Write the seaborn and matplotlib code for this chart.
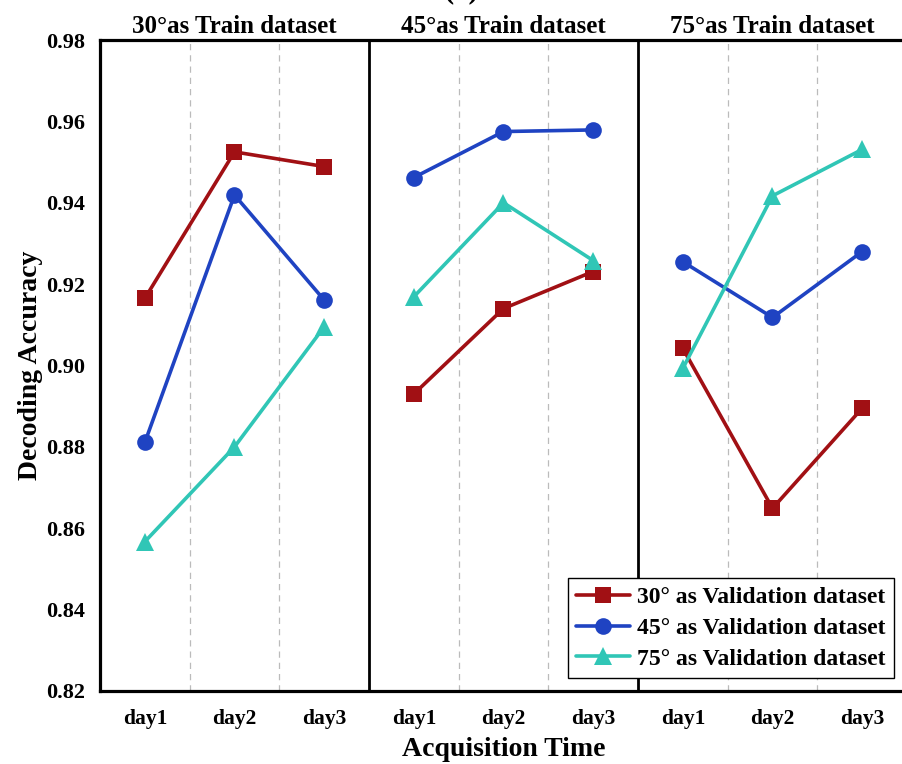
import matplotlib
matplotlib.use("Agg")
import matplotlib.pyplot as plt
import seaborn as sns
import pandas as pd
from matplotlib.lines import Line2D

sns.set_style("white")
plt.rcParams['font.family'] = ['Liberation Serif', 'DejaVu Serif']
plt.rcParams['font.weight'] = 'bold'
plt.rcParams['text.color'] = 'black'
plt.rcParams['axes.labelcolor'] = 'black'
plt.rcParams['xtick.color'] = 'black'
plt.rcParams['ytick.color'] = 'black'

# ---------------- data ----------------
panels = ["30°as Train dataset", "45°as Train dataset", "75°as Train dataset"]
days = ["day1", "day2", "day3"]
series = ["30° as Validation dataset", "45° as Validation dataset", "75° as Validation dataset"]

# values per series, per panel (train 30, 45, 75), per day
val30 = [[0.9165, 0.9525, 0.9489],
         [0.8930, 0.9140, 0.9231],
         [0.9042, 0.8649, 0.8895]]
val45 = [[0.8811, 0.9419, 0.9161],
         [0.9462, 0.9575, 0.9579],
         [0.9255, 0.9118, 0.9280]]
val75 = [[0.8567, 0.8800, 0.9095],
         [0.9169, 0.9400, 0.9258],
         [0.8993, 0.9417, 0.9531]]

yticks = [0.82, 0.84, 0.86, 0.88, 0.90, 0.92, 0.94, 0.96, 0.98]

colors = ["#A11014", "#1F43C2", "#30C6B6"]
markers = ["s", "o", "^"]
msizes = [11, 12, 13]

# build long table
rows = []
for s_name, vals in zip(series, [val30, val45, val75]):
    for p_i, p_name in enumerate(panels):
        for d_i, d_name in enumerate(days):
            rows.append(dict(series=s_name, panel=p_name, day=d_name,
                             pos=p_i * len(days) + d_i + 0.5,
                             acc=vals[p_i][d_i]))
df = pd.DataFrame(rows)

fig = plt.figure(figsize=(9.03, 7.64), dpi=100)
ax = fig.add_axes([100 / 903, 73 / 764, 807 / 903, 651 / 764])

# separators
n = len(days) * len(panels)
for xv in range(1, n):
    if xv % len(days) == 0:
        ax.axvline(xv, color="black", lw=2, zorder=1)
    else:
        ax.axvline(xv, color="#BBBBBB", lw=0.9, ls=(0, (5, 4)), zorder=1)

for s_name, c, m, ms in zip(series, colors, markers, msizes):
    sub = df[df.series == s_name]
    for p_name in panels:
        d = sub[sub.panel == p_name]
        sns.lineplot(data=d, x="pos", y="acc", color=c, marker=m, markersize=ms,
                     markeredgewidth=0, lw=2.6, ax=ax, legend=False, zorder=3,
                     estimator=None, sort=False)

ax.set_xlim(0, n)
ax.set_ylim(yticks[0], yticks[-1])
ax.set_yticks(yticks)
ax.set_yticklabels([f"{v:.2f}" for v in yticks], fontsize=16, fontweight='bold')
ax.set_xticks(df.pos.unique())
ax.set_xticklabels(days * len(panels), fontsize=15.5, fontweight='bold')
ax.tick_params(axis='both', direction='in', width=2, colors='black')
ax.tick_params(axis='x', pad=13, length=10)
ax.tick_params(axis='y', pad=11, length=12)
for sp in ax.spines.values():
    sp.set_linewidth(2.3)
    sp.set_color('black')

ax.set_xlabel("Acquisition Time", fontsize=20, fontweight='bold', labelpad=6)
ax.set_ylabel("Decoding Accuracy", fontsize=20, fontweight='bold', labelpad=2)

for p_i, p_name in enumerate(panels):
    ax.text((p_i * len(days) + len(days) / 2) / n, 1.003, p_name, transform=ax.transAxes,
            ha='center', va='bottom', fontsize=18, fontweight='bold')

fig.text(462 / 903, 1.0 + 3 / 764, "(a)", ha='center', va='baseline', fontsize=22,
         fontweight='bold')

handles = [Line2D([0], [0], color=c, marker=m, markersize=ms, markeredgewidth=0, lw=2.6)
           for c, m, ms in zip(colors, markers, msizes)]
leg = ax.legend(handles, series, loc='lower right', frameon=True,
                fancybox=False, edgecolor='black', framealpha=1, borderaxespad=0.55,
                handlelength=2.3, handletextpad=0.3, borderpad=0.35, labelspacing=0.4,
                prop={'weight': 'bold', 'size': 17})
leg.get_frame().set_linewidth(1.0)
leg.set_zorder(5)

fig.savefig("out.png", dpi=100)
